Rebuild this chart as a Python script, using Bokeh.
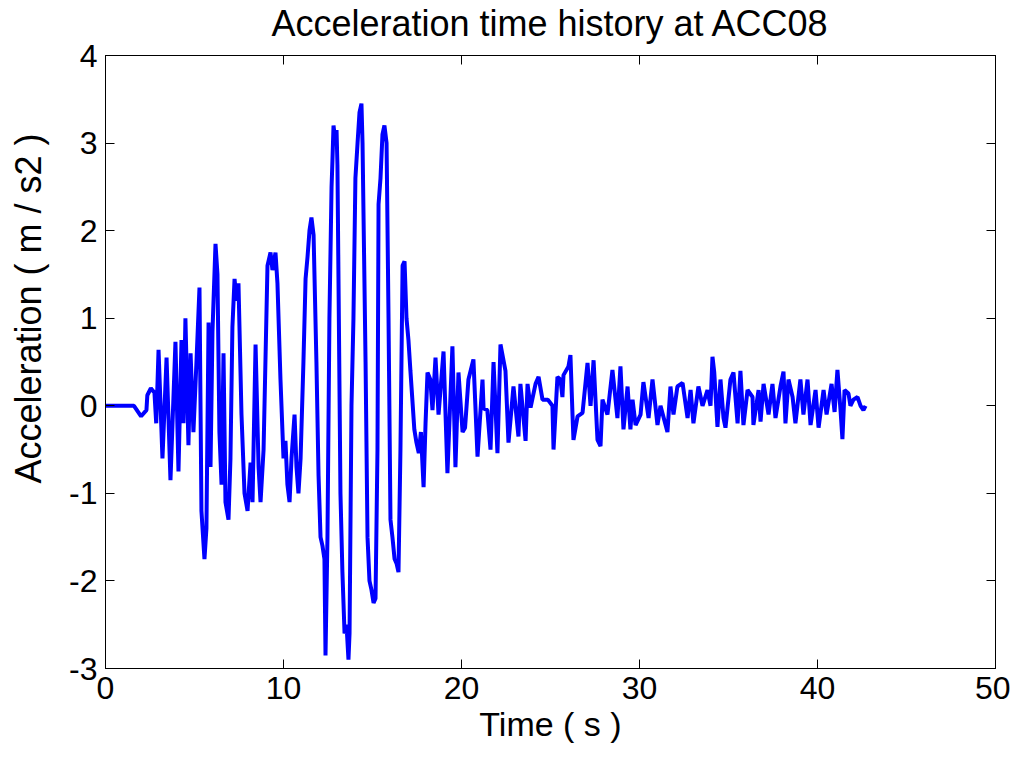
from bokeh.plotting import figure
from bokeh.models import LinearAxis, FixedTicker, Range1d, Title
from bokeh.embed import file_html
from bokeh.resources import INLINE

# ---- data ----
time_s = [0, 1.6, 2.0, 2.3, 2.35, 2.55, 2.75, 2.85, 2.98, 3.2, 3.43, 3.65, 3.93, 4.1, 4.27, 4.38,
          4.49, 4.66, 4.78, 4.94, 5.11, 5.28, 5.39, 5.56, 5.67, 5.79, 5.9, 6.01, 6.18, 6.29, 6.4,
          6.52, 6.63, 6.74, 6.91, 7.02, 7.13, 7.25, 7.36, 7.47, 7.64, 7.81, 7.98, 8.15, 8.26, 8.43,
          8.6, 8.71, 8.88, 9.1, 9.27, 9.38, 9.55, 9.66, 9.83, 10.0, 10.11, 10.22, 10.34, 10.45,
          10.62, 10.73, 10.84, 10.96, 11.12, 11.24, 11.35, 11.46, 11.57, 11.69, 11.85, 11.97,
          12.08, 12.19, 12.3, 12.36, 12.47, 12.58, 12.70, 12.75, 12.81, 12.92, 12.98, 13.03, 13.2,
          13.31, 13.43, 13.54, 13.65, 13.71, 13.82, 13.93, 14.04, 14.16, 14.27, 14.38, 14.44, 14.61,
          14.72, 14.83, 14.94, 15.06, 15.17, 15.28, 15.34, 15.45, 15.56, 15.67, 15.79, 15.9, 16.01,
          16.12, 16.24, 16.35, 16.46, 16.57, 16.69, 16.8, 16.91, 17.02, 17.13, 17.23, 17.35, 17.47,
          17.6, 17.72, 17.87, 17.98, 18.09, 18.25, 18.37, 18.54, 18.71, 18.99, 19.21, 19.49, 19.66,
          19.83, 20.06, 20.2, 20.39, 20.67, 20.9, 21.18, 21.24, 21.45, 21.63, 21.8, 22.02, 22.19,
          22.47, 22.64, 22.92, 23.2, 23.31, 23.6, 23.71, 23.88, 24.16, 24.33, 24.55, 24.85, 25.11,
          25.17, 25.39, 25.56, 25.67, 25.73, 26.01, 26.12, 26.24, 26.29, 26.52, 26.8, 27.08, 27.25,
          27.42, 27.64, 27.81, 27.92, 28.2, 28.48, 28.76, 28.93, 29.1, 29.33, 29.49, 29.61, 29.78,
          30.06, 30.22, 30.51, 30.73, 31.01, 31.18, 31.57, 31.74, 31.91, 32.13, 32.42, 32.7, 32.87,
          33.03, 33.31, 33.54, 33.82, 33.99, 34.1, 34.2, 34.38, 34.55, 34.72, 34.83, 35.11, 35.28,
          35.51, 35.67, 35.84, 36.07, 36.35, 36.4, 36.69, 36.8, 36.97, 37.25, 37.47, 37.64, 37.92,
          38.09, 38.2, 38.37, 38.6, 38.76, 39.04, 39.21, 39.44, 39.61, 39.89, 40.06, 40.34, 40.51,
          40.79, 40.96, 41.12, 41.3, 41.4, 41.52, 41.74, 41.85, 42.02, 42.25, 42.42, 42.58, 42.7]

accel = [0, 0, -0.12, -0.05, 0.12, 0.2, 0.15, -0.2, 0.64, -0.6, 0.55, -0.85, 0.73, -0.75, 0.75, -0.2,
         1.0, -0.45, 0.6, -0.3, 0.5, 1.35, -1.2, -1.75, -1.4, 0.95, -0.7, 0.85, 1.85, 1.5, -0.3,
         -0.9, 0.6, -1.1, -1.3, -0.6, 0.9, 1.45, 1.2, 1.4, -0.1, -1.0, -1.2, -0.65, -1.1, 0.7,
         -0.7, -1.1, -0.5, 1.6, 1.75, 1.55, 1.75, 1.4, 0.3, -0.6, -0.4, -0.9, -1.1, -0.6,
         -0.1, -0.7, -1.0, -0.6, 0.5, 1.45, 1.7, 2.0, 2.15, 1.95, 0.5, -0.8,
         -1.5, -1.6, -1.75, -2.85, -1.5, 1.0, 2.5, 2.8, 3.2, 3.0, 3.15, 2.75, -1.0,
         -1.9, -2.6, -2.5, -2.9, -2.6, 0.0, 1.0, 2.6, 3.0, 3.35, 3.45, 3.0, 0.5,
         -1.5, -2.0, -2.1, -2.25, -2.2, -0.5, 2.3, 2.6, 3.1, 3.2, 3.0, 1.0, -1.3,
         -1.5, -1.75, -1.8, -1.9, -0.5, 1.6, 1.65, 1.0, 0.75, 0.4, 0.1, -0.27, -0.42,
         -0.54, -0.3, -0.93, -0.2, 0.38, 0.3, -0.05, 0.55, -0.1, 0.62, -0.77, 0.68, -0.7,
         0.38, -0.3, -0.25, 0.3, 0.53, -0.58, 0.3, -0.03, -0.05, -0.5, 0.5, -0.54, 0.7,
         0.4, -0.42, 0.22, -0.35, 0.25, -0.4, 0.25, -0.02, 0.25, 0.33, 0.07, 0.07, 0.0,
         -0.5, 0.33, 0.3, 0.1, 0.35, 0.45, 0.58, -0.12, -0.39, -0.12, -0.08, 0.49, 0.0,
         0.52, -0.39, -0.46, 0.07, -0.1, 0.41, -0.14, 0.45, -0.27, 0.22, -0.27, 0.07, -0.22,
         -0.1, 0.27, -0.14, 0.3, -0.22, 0.0, -0.3, 0.22, -0.1, 0.22, 0.26, -0.14, 0.18,
         -0.2, 0.22, 0.0, 0.18, 0.0, 0.56, 0.38, -0.24, 0.3, -0.14, -0.25, 0.3, 0.38,
         -0.2, 0.4, -0.22, 0.18, 0.1, -0.22, 0.18, -0.18, 0.25, -0.1, 0.25, -0.14, 0.22,
         0.39, -0.2, 0.3, 0.1, -0.2, 0.3, -0.1, 0.3, -0.22, 0.18, -0.25, 0.18, -0.1,
         0.25, -0.07, 0.41, -0.07, -0.38, 0.18, 0.14, 0.0, 0.07, 0.1, 0.0, -0.05, 0.0]

x_ticks = [0, 10, 20, 30, 40, 50]
y_ticks = [-3, -2, -1, 0, 1, 2, 3, 4]

title_text = "Acceleration time history at ACC08"
x_label = "Time ( s )"
y_label = "Acceleration ( m / s2 )"

FONT = "Liberation Sans"

p = figure(width=1010, height=756, output_backend="svg", toolbar_location=None,
           x_range=Range1d(0, 50), y_range=Range1d(-3, 4),
           title=title_text,
           min_border_left=105, min_border_right=15, min_border_top=55, min_border_bottom=88)

p.line(time_s, accel, line_color="#0000ff", line_width=4)

p.grid.visible = False
p.outline_line_color = "black"
p.outline_line_width = 1
p.background_fill_color = "white"
p.border_fill_color = "white"

p.title.align = "center"
p.title.text_font = FONT
p.title.text_font_size = "36px"
p.title.text_font_style = "normal"
p.title.text_color = "black"
p.title.offset = 0
p.title.standoff = 0
try:
    p.title.padding = dict(top=0, right=0, bottom=12, left=0)
except Exception:
    p.title.standoff = 8


def style_axis(ax, ticks, show_labels=True):
    ax.ticker = FixedTicker(ticks=ticks)
    ax.major_tick_in = 9
    ax.major_tick_out = 0
    ax.minor_tick_line_color = None
    ax.axis_line_color = "black"
    ax.major_tick_line_color = "black"
    ax.major_label_text_font = FONT
    ax.major_label_overrides = {t: str(t) for t in ticks}
    if show_labels:
        ax.major_label_text_font_size = "32px"
        ax.major_label_text_color = "black"
    else:
        ax.major_label_text_font_size = "1px"
        ax.major_label_text_color = None
        ax.major_label_standoff = 0


xa = p.xaxis[0]
ya = p.yaxis[0]
style_axis(xa, x_ticks)
style_axis(ya, y_ticks)
xa.major_label_standoff = 8
ya.major_label_standoff = 8
xa.axis_label = x_label
xa.axis_label_text_font = FONT
xa.axis_label_text_font_size = "34px"
xa.axis_label_text_font_style = "normal"
xa.axis_label_text_color = "black"
xa.axis_label_standoff = 3

# y-axis title, to the left of the tick labels, shifted toward the top as in the reference
ytitle = Title(text=y_label, align="right", offset=78, standoff=0,
               text_font=FONT, text_font_size="36px", text_font_style="normal",
               text_color="black")
try:
    ytitle.padding = dict(top=0, right=0, bottom=18, left=0)
except Exception:
    ytitle.standoff = 18
p.add_layout(ytitle, "left")

top = LinearAxis()
style_axis(top, x_ticks, show_labels=False)
right = LinearAxis()
style_axis(right, y_ticks, show_labels=False)
p.add_layout(top, "above")
p.add_layout(right, "right")

open("out.html", "w").write(file_html(p, INLINE))
